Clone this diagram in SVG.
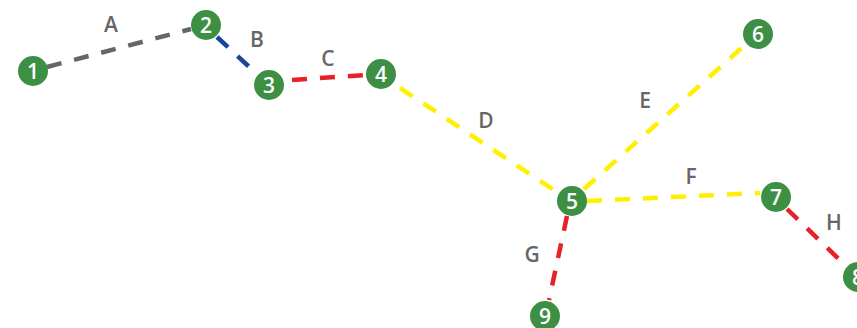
<svg xmlns="http://www.w3.org/2000/svg" width="857" height="328" viewBox="0 0 857 328">
<style>
.e{stroke-width:4.5;stroke-dasharray:15 13;fill:none}
.n circle{fill:#3d8f44}
.n text{fill:#fff;font-family:"Open Sans",sans-serif;font-weight:600;font-size:21px;text-anchor:middle}
.l{fill:#666;font-family:"Open Sans",sans-serif;font-weight:600;font-size:21px;text-anchor:middle}
</style>
<rect width="857" height="328" fill="#fff"/>
<g id="connectors">
<line class="e" x1="47" y1="67" x2="191" y2="29" stroke="#666"/>
<line class="e" x1="217" y1="37" x2="258" y2="75" stroke="#1a459c"/>
<line class="e" x1="292" y1="80" x2="366" y2="75" stroke="#e8202a"/>
<line class="e" x1="400" y1="88" x2="557" y2="192" stroke="#fff000"/>
<line class="e" x1="584" y1="189" x2="746" y2="44" stroke="#fff000"/>
<line class="e" x1="587" y1="201" x2="760" y2="193" stroke="#fff000"/>
<line class="e" x1="567" y1="216" x2="549" y2="300" stroke="#e8202a"/>
<line class="e" x1="787" y1="209" x2="846" y2="266" stroke="#e8202a"/>
<text class="l" x="111" y="32">A</text>
<text class="l" x="257" y="47">B</text>
<text class="l" x="328" y="66">C</text>
<text class="l" x="486" y="128">D</text>
<text class="l" x="645" y="108">E</text>
<text class="l" x="691" y="184">F</text>
<text class="l" x="532" y="262">G</text>
<text class="l" x="834" y="230">H</text>
</g>
<g id="n1" class="n"><circle cx="33" cy="71" r="15"/><text x="33" y="79">1</text></g>
<g id="n2" class="n"><circle cx="206" cy="25" r="15"/><text x="206" y="33">2</text></g>
<g id="n3" class="n"><circle cx="269" cy="85" r="15"/><text x="269" y="93">3</text></g>
<g id="n4" class="n"><circle cx="381" cy="74" r="15"/><text x="381" y="82">4</text></g>
<g id="n5" class="n"><circle cx="572" cy="201" r="15"/><text x="572" y="209">5</text></g>
<g id="n6" class="n"><circle cx="758" cy="34" r="15"/><text x="758" y="42">6</text></g>
<g id="n7" class="n"><circle cx="776" cy="197" r="15"/><text x="776" y="205">7</text></g>
<g id="n8" class="n"><circle cx="858" cy="277" r="15"/><text x="858" y="285">8</text></g>
<g id="n9" class="n"><circle cx="545" cy="316" r="15"/><text x="545" y="324">9</text></g>
</svg>
